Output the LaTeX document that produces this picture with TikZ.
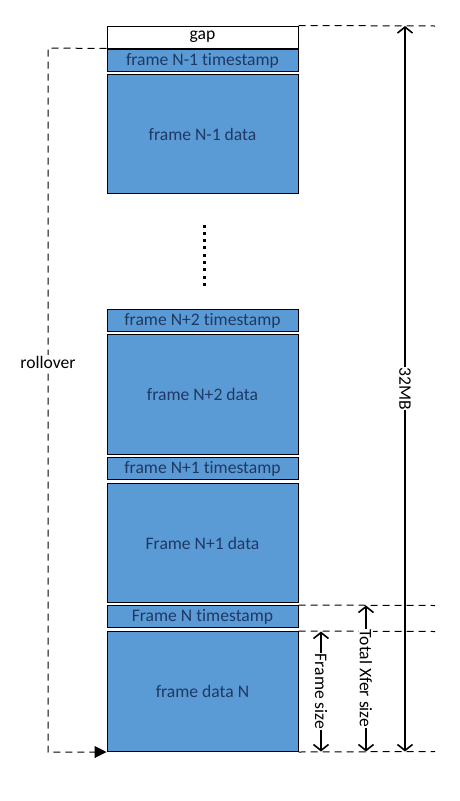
\documentclass[tikz,border=0pt]{standalone}
\usepackage{fontspec}
\setmainfont{Carlito}[Ligatures={NoCommon}]
\usetikzlibrary{arrows.meta}
\definecolor{boxblue}{HTML}{5B9BD5}
\definecolor{navy}{HTML}{1F3864}
\begin{document}
\begin{tikzpicture}[x=1pt,y=-1pt,
  box/.style={draw=black, line width=1pt, fill=boxblue, text=navy, minimum width=191pt, inner sep=0pt, font=\fontsize{17.6}{19}\selectfont},
  gapbox/.style={box, fill=white, text=black},
  dline/.style={dashed, dash pattern=on 7pt off 5pt, line width=1pt},
  dim/.style={line width=1.6pt, {Straight Barb[length=6pt,width=15pt]}-{Straight Barb[length=6pt,width=15pt]}},
  lbl/.style={font=\fontsize{17.6}{19}\selectfont, fill=white, inner sep=1pt},
  dotmark/.style={fill=black, inner sep=0pt, minimum size=3pt}
]
\useasboundingbox (0,0) rectangle (460,801);

\node[gapbox, minimum height=22pt] (gap) at (202.5,37) {gap};
\node[box, minimum height=22pt] (ts1) at (202.5,60.5) {frame N-1 timestamp};
\node[box, minimum height=119pt] (d1) at (202.5,134) {frame N-1 data};

\foreach \i in {0,...,8} {
  \node[dotmark] (dot\i) at (204,{226+7.3*\i}) {};
}

\node[box, minimum height=22pt] (ts2) at (202.5,320.5) {frame N+2 timestamp};
\node[box, minimum height=120pt] (d2) at (202.5,394.5) {frame N+2 data};
\node[box, minimum height=22pt] (ts3) at (202.5,468.5) {frame N+1 timestamp};
\node[box, minimum height=119pt] (d3) at (202.5,543) {Frame N+1 data};
\node[box, minimum height=22pt] (ts4) at (202.5,616.5) {Frame N timestamp};
\node[box, minimum height=120pt] (d4) at (202.5,691.5) {frame data N};

% right dashed guide lines
\coordinate (g1) at (435,26);
\coordinate (g2) at (435,605.5);
\coordinate (g3) at (435,631.5);
\coordinate (g4) at (435,751.5);
\draw[dline] (gap.north east) -- (g1);
\draw[dline] (ts4.north east) -- (g2);
\draw[dline] (d4.north east) -- (g3);
\draw[dline] (d4.south east) -- (g4);

% rollover
\coordinate (rl) at (48,48);
\draw[dline, -{Triangle[length=12pt,width=12pt]}] (gap.south west) -- (rl) |- (d4.south west);
\node[lbl] (roll) at (48,362) {rollover};

% 32MB
\coordinate (m1) at (405,26);
\coordinate (m2) at (405,751.5);
\draw[dim] (m1) -- (m2) node[midway, lbl, rotate=-90, inner sep=0.5pt] (mb) {32MB};

% Total Xfer size
\coordinate (x1) at (366,605.5);
\coordinate (x2) at (366,751.5);
\draw[dim] (x1) -- (x2) node[midway, lbl, rotate=-90, inner sep=0.5pt] (xf) {Total Xfer size};

% Frame size
\coordinate (f1) at (321,631.5);
\coordinate (f2) at (321,751.5);
\draw[dim] (f1) -- (f2) node[midway, lbl, rotate=-90, inner sep=0.5pt] (fs) {Frame size};
\end{tikzpicture}
\end{document}
